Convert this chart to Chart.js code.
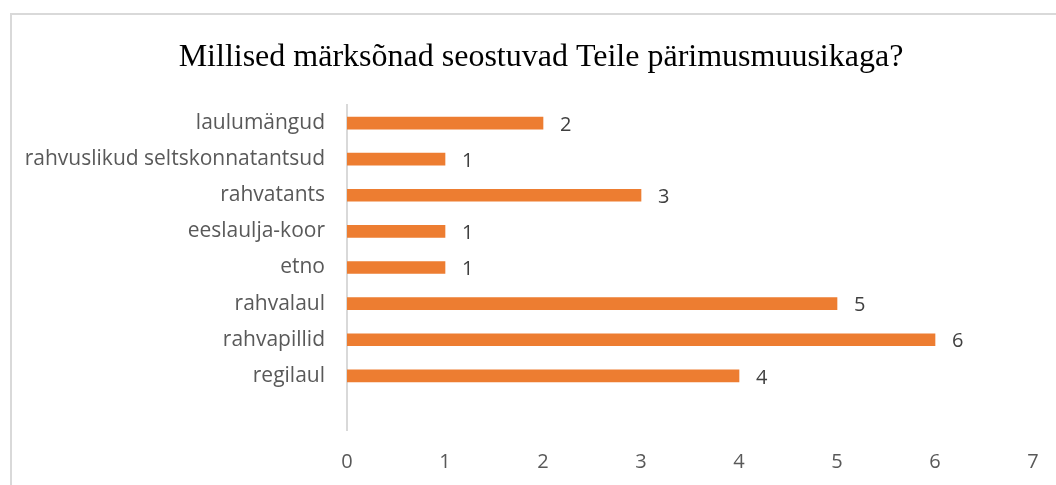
<!DOCTYPE html>
<html>
<head>
<meta charset="utf-8">
<script src="https://cdn.jsdelivr.net/npm/chart.js@4/dist/chart.umd.min.js"></script>
<style>
  html, body { margin: 0; padding: 0; background: #fff; }
  #wrap { position: relative; width: 1056px; height: 485px; overflow: hidden; }
  #frame { position: absolute; left: 10px; top: 13px; width: 1100px; height: 500px;
           border-left: 2px solid #d9d9d9; border-top: 2px solid #d9d9d9; }
  canvas { position: absolute; left: 0; top: 0; }
</style>
</head>
<body>
<div id="wrap">
  <div id="frame"></div>
  <canvas id="chart" width="1056" height="485"></canvas>
</div>
<script>
const chartTitle = "Millised märksõnad seostuvad Teile pärimusmuusikaga?";
const categories = [
  "laulumängud",
  "rahvuslikud seltskonnatantsud",
  "rahvatants",
  "eeslaulja-koor",
  "etno",
  "rahvalaul",
  "rahvapillid",
  "regilaul",
  ""
];
const counts = [2, 1, 3, 1, 1, 5, 6, 4, null];
const axisMin = 0;
const axisMax = 7;

const labelFont = "'Open Sans', sans-serif";

// title is drawn by hand so it can sit a bit right of the canvas centre
const titlePlugin = {
  id: "titleText",
  afterDraw(chart) {
    const ctx = chart.ctx;
    ctx.save();
    ctx.font = "32px 'Liberation Serif', 'Times New Roman', serif";
    ctx.fillStyle = "#000";
    ctx.textAlign = "center";
    ctx.textBaseline = "middle";
    ctx.fillText(chartTitle, chart.width / 2 + 13, 58);
    ctx.restore();
  }
};

// draws the value next to each bar end
const valueLabels = {
  id: "valueLabels",
  afterDatasetsDraw(chart) {
    const ctx = chart.ctx;
    const meta = chart.getDatasetMeta(0);
    ctx.save();
    ctx.font = "20px " + labelFont;
    ctx.fillStyle = "#404040";
    ctx.textAlign = "left";
    ctx.textBaseline = "middle";
    meta.data.forEach((bar, i) => {
      const v = counts[i];
      if (v === null || v === undefined) return;
      ctx.fillText(String(v), bar.x + 17, bar.y + 2);
    });
    ctx.restore();
  }
};

const ctx = document.getElementById("chart").getContext("2d");
new Chart(ctx, {
  type: "bar",
  data: {
    labels: categories,
    datasets: [{
      data: counts,
      backgroundColor: "#ED7D31",
      barThickness: 12
    }]
  },
  options: {
    indexAxis: "y",
    responsive: false,
    animation: false,
    layout: { padding: { left: 0, right: 23, top: 105, bottom: 0 } },
    plugins: {
      legend: { display: false },
      tooltip: { enabled: false },
      title: { display: false }
    },
    scales: {
      x: {
        min: axisMin,
        max: axisMax,
        grid: { display: false },
        border: { display: false },
        ticks: {
          stepSize: 1,
          color: "#595959",
          padding: 12,
          font: { family: labelFont, size: 20 }
        },
        afterFit(scale) { scale.height = 55; }
      },
      y: {
        grid: { display: false },
        border: { display: true, color: "#d9d9d9", width: 2 },
        ticks: {
          color: "#595959",
          padding: 14,
          autoSkip: false,
          font: { family: labelFont, size: 21 }
        },
        afterFit(scale) { scale.width = 347; }
      }
    }
  },
  plugins: [valueLabels, titlePlugin]
});
</script>
</body>
</html>
